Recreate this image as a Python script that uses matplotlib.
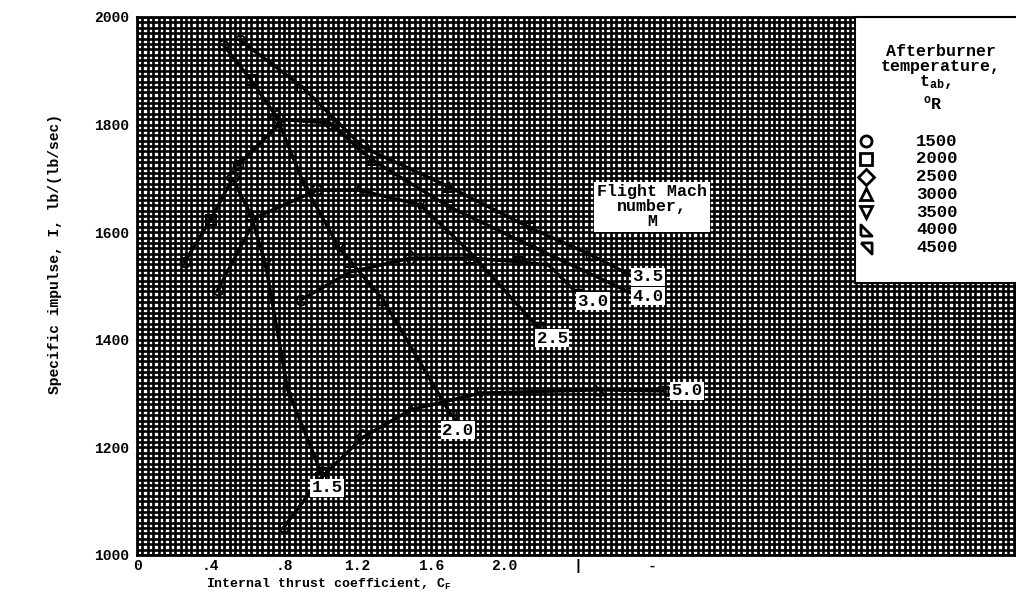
import numpy as np
import matplotlib
matplotlib.use('Agg')
import matplotlib.pyplot as plt
from matplotlib.patches import Rectangle

plt.rcParams['font.family'] = ['Liberation Mono', 'DejaVu Sans Mono']
plt.rcParams['font.weight'] = 'bold'
plt.rcParams['mathtext.fontset'] = 'custom'
plt.rcParams['mathtext.rm'] = 'Liberation Mono:bold'
plt.rcParams['mathtext.it'] = 'Liberation Mono:bold'
plt.rcParams['mathtext.default'] = 'rm'

# afterburner temperatures (deg R), one point per temperature on every Mach curve
temps = [1500, 2000, 2500, 3000, 3500, 4000, 4500]

# thrust coefficient / specific impulse
cf_15 = [0.26, 0.40, 0.52, 0.62, 0.70, 0.82, 1.00]
imp_15 = [1545, 1623, 1700, 1632, 1540, 1307, 1155]

cf_20 = [0.47, 0.62, 0.76, 0.91, 1.10, 1.34, 1.71]
imp_20 = [1948, 1883, 1814, 1688, 1571, 1474, 1260]

cf_25 = [0.44, 0.65, 0.98, 1.21, 1.54, 1.80, 2.18]
imp_25 = [1493, 1628, 1678, 1678, 1651, 1567, 1424]

cf_30 = [0.89, 1.16, 1.49, 1.81, 2.08, 2.24, 2.40]
imp_30 = [1474, 1526, 1552, 1552, 1545, 1539, 1485]

cf_35 = [0.56, 0.90, 1.23, 1.70, 2.14, 2.47, 2.69]
imp_35 = [1957, 1870, 1758, 1684, 1608, 1558, 1519]

cf_40 = [0.55, 0.80, 1.05, 1.28, 1.70, 2.19, 2.69]
imp_40 = [1725, 1809, 1803, 1734, 1647, 1567, 1487]

cf_50 = [0.80, 1.00, 1.23, 1.49, 1.87, 2.52, 2.86]
imp_50 = [1052, 1143, 1219, 1270, 1301, 1307, 1305]

mach_labels = ['1.5', '2.0', '2.5', '3.0', '3.5', '4.0', '5.0']
curves = [(cf_15, imp_15), (cf_20, imp_20), (cf_25, imp_25), (cf_30, imp_30),
          (cf_35, imp_35), (cf_40, imp_40), (cf_50, imp_50)]

# where the Mach number tags sit
label_pos = [(1.034, 1125), (1.747, 1232), (2.259, 1403), (2.482, 1472),
             (2.781, 1517), (2.781, 1481), (2.993, 1305)]

markers = ['o', 's', 'D', '^', 'v',
           [(-1, -1), (1, -1), (-1, 1), (-1, -1)],
           [(-1, 1), (1, 1), (1, -1), (-1, 1)]]

W, H = 1016, 597
fig = plt.figure(figsize=(W / 100, H / 100), dpi=100)
ax = fig.add_axes([137 / W, 1 - 555 / H, 879 / W, 538 / H])

xmax = 879 / 183.75
ax.set_xlim(0, xmax)
ax.set_ylim(1000, 2000)

# the graph paper
ax.vlines(np.arange(0, xmax, 0.4 / 13.5), 1000, 2000, color='black', lw=1.9, zorder=0)
ax.hlines(np.arange(1000, 2001, 10), 0, xmax, color='black', lw=1.9, zorder=0)

ax.set_xticks([0, 0.4, 0.8, 1.2, 1.6, 2.0, 2.4, 2.8])
ax.set_xticklabels(['0', '.4', '.8', '1.2', '1.6', '2.0', '|', '-'])
ax.set_yticks([1000, 1200, 1400, 1600, 1800, 2000])
ax.tick_params(which='both', length=0)
ax.tick_params(axis='x', pad=3, labelsize=10.5)
ax.tick_params(axis='y', pad=6, labelsize=10.5)
for sp in ax.spines.values():
    sp.set_linewidth(2)

for (cf, imp) in curves:
    ax.plot(cf, imp, color='black', lw=2.4, zorder=3)
    for j in range(len(cf)):
        ax.plot(cf[j], imp[j], marker=markers[j], ms=7, mfc='none',
                mec='black', mew=1.4, zorder=3)

for s, (x, y) in zip(mach_labels, label_pos):
    ax.text(x, y, s, ha='center', va='center', fontsize=12.5, zorder=5,
            bbox=dict(facecolor='white', edgecolor='none', pad=1.2))

ax.text(2.803, 1647, 'Flight Mach\nnumber,\nM', ha='center', va='center',
        fontsize=12, linespacing=1.0, zorder=5,
        bbox=dict(facecolor='white', edgecolor='none', pad=2))

# temperature key
ax.add_patch(Rectangle(((855 - 137) / 879, (555 - 283) / 538), 0.2, 266 / 538,
                       transform=ax.transAxes, facecolor='white',
                       edgecolor='black', lw=1.5, zorder=4, clip_on=False))
fig.text(941 / W, 1 - 51 / H, 'Afterburner', ha='center', va='center', fontsize=12, zorder=6)
fig.text(941 / W, 1 - 67 / H, 'temperature,', ha='center', va='center', fontsize=12, zorder=6)
fig.text(935 / W, 1 - 82 / H, 't$_{ab}$,', ha='center', va='center', fontsize=12, zorder=6)
fig.text(933 / W, 1 - 103 / H, '$^{o}$R', ha='center', va='center', fontsize=12, zorder=6)
for j, t in enumerate(temps):
    py = 141 + 17.8 * j
    fig.text(937 / W, 1 - py / H, str(t), ha='center', va='center', fontsize=12.5, zorder=6)
    ax.plot([(866 - 137) / 879], [(555 - py) / 538], marker=markers[j], ms=8,
            mfc='white', mec='black', mew=2, transform=ax.transAxes,
            clip_on=False, zorder=6)

fig.text(55 / W, 1 - 254 / H, 'Specific impulse, I, lb/(lb/sec)', rotation=90,
         ha='center', va='center', fontsize=10.5)
fig.text(329 / W, 1 - 584 / H, 'Internal thrust coefficient, C$_F$',
         ha='center', va='center', fontsize=9.5)

fig.savefig('out.png', dpi=100)
